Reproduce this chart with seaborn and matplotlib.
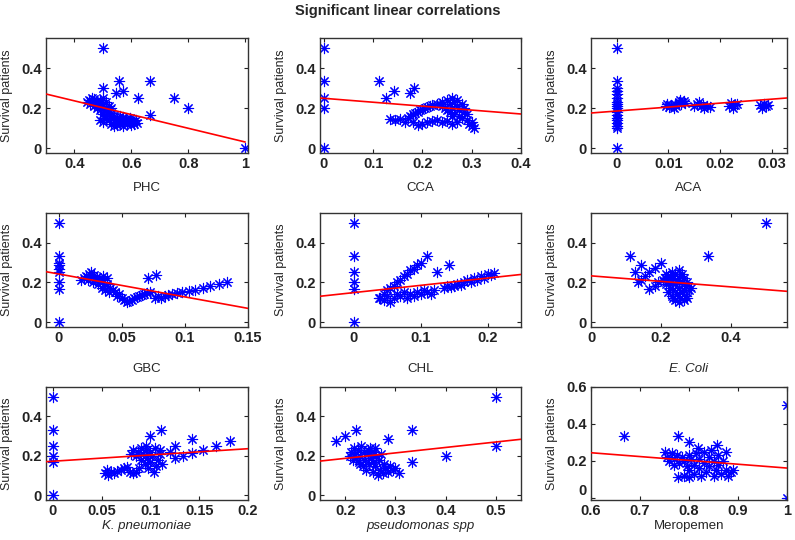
import matplotlib
matplotlib.use("Agg")
import matplotlib.pyplot as plt
import numpy as np
import pandas as pd
import seaborn as sns

# ---- data ----
phc_x = [0.445, 0.45, 0.455, 0.46, 0.465, 0.47, 0.47, 0.475, 0.48, 0.48, 0.485, 0.49, 0.49, 0.495,
         0.5, 0.5, 0.505, 0.505, 0.51, 0.51, 0.515, 0.52, 0.52, 0.525, 0.53, 0.53, 0.535, 0.54, 0.54,
         0.545, 0.55, 0.55, 0.555, 0.56, 0.56, 0.565, 0.57, 0.57, 0.575, 0.58, 0.585, 0.59, 0.595,
         0.6, 0.6, 0.605, 0.61, 0.615, 0.62, 0.52, 0.53, 0.51, 0.49, 0.5,
         0.5, 0.556, 0.667, 0.5, 0.545, 0.571, 0.625, 0.75, 0.8, 0.667, 1.0, 0.5]
phc_y = [0.23, 0.24, 0.22, 0.25, 0.23, 0.21, 0.245, 0.225, 0.235, 0.2, 0.215, 0.24, 0.19, 0.205,
         0.22, 0.17, 0.19, 0.15, 0.2, 0.16, 0.18, 0.14, 0.19, 0.16, 0.12, 0.175, 0.145, 0.11, 0.16,
         0.13, 0.15, 0.115, 0.135, 0.16, 0.12, 0.14, 0.11, 0.155, 0.13, 0.145, 0.12, 0.135, 0.15,
         0.115, 0.14, 0.13, 0.12, 0.14, 0.125, 0.21, 0.2, 0.23, 0.14, 0.13,
         0.5, 0.333, 0.333, 0.3, 0.273, 0.286, 0.25, 0.25, 0.2, 0.167, 0.0, 0.25]
phc_fit_x = [0.3, 1.0]
phc_fit_y = [0.27, 0.03]

cca_x = [0, 0, 0, 0, 0, 0.111, 0.125, 0.143, 0.175, 0.182,
         0.135, 0.145, 0.155, 0.165, 0.17,
         0.175, 0.18, 0.185, 0.19, 0.195, 0.2, 0.205, 0.21, 0.215, 0.22, 0.23,
         0.18, 0.19, 0.2, 0.21, 0.22, 0.23, 0.24, 0.25, 0.26, 0.27,
         0.24, 0.245, 0.25, 0.25, 0.255, 0.26, 0.26, 0.265, 0.265, 0.27, 0.27, 0.275, 0.275,
         0.28, 0.28, 0.285, 0.285, 0.29, 0.29, 0.295, 0.3, 0.3, 0.305, 0.26, 0.255, 0.24, 0.235]
cca_y = [0.5, 0.333, 0.25, 0.2, 0.0, 0.333, 0.25, 0.286, 0.273, 0.3,
         0.145, 0.14, 0.145, 0.13, 0.15,
         0.16, 0.17, 0.175, 0.18, 0.19, 0.195, 0.2, 0.205, 0.21, 0.215, 0.22,
         0.13, 0.115, 0.12, 0.13, 0.135, 0.14, 0.13, 0.135, 0.12, 0.13,
         0.23, 0.2, 0.24, 0.19, 0.22, 0.25, 0.2, 0.23, 0.17, 0.21, 0.24, 0.19, 0.16,
         0.22, 0.15, 0.18, 0.2, 0.14, 0.17, 0.12, 0.13, 0.11, 0.1, 0.16, 0.18, 0.21, 0.22]
cca_fit_x = [-0.008, 0.4]
cca_fit_y = [0.25, 0.17]

aca_x = [0] * 18 + [
    0.0095, 0.0098, 0.0102, 0.0105, 0.011, 0.0112, 0.0115, 0.012, 0.0122, 0.0125, 0.013, 0.0133,
    0.015, 0.0155, 0.016, 0.0163, 0.0168, 0.017, 0.0175, 0.018,
    0.0218, 0.0222, 0.0226, 0.023, 0.0234,
    0.0278, 0.0282, 0.0286, 0.029, 0.0294]
aca_y = [0.0, 0.1, 0.11, 0.125, 0.14, 0.15, 0.167, 0.18, 0.2, 0.21, 0.22, 0.23, 0.25, 0.27, 0.286,
         0.3, 0.333, 0.5,
         0.21, 0.22, 0.205, 0.215, 0.2, 0.22, 0.21, 0.23, 0.24, 0.22, 0.235, 0.225,
         0.21, 0.22, 0.23, 0.21, 0.215, 0.2, 0.21, 0.205,
         0.21, 0.225, 0.2, 0.215, 0.22,
         0.215, 0.2, 0.22, 0.21, 0.215]
aca_fit_x = [-0.005, 0.035]
aca_fit_y = [0.175, 0.254]

gbc_x = [0, 0, 0, 0, 0, 0, 0, 0, 0,
         0.018, 0.02, 0.022, 0.023, 0.024, 0.025, 0.026, 0.027, 0.028, 0.029, 0.03, 0.031, 0.032,
         0.033, 0.034, 0.035, 0.036, 0.037, 0.038, 0.04, 0.041, 0.043, 0.045, 0.046, 0.048, 0.05,
         0.052, 0.054, 0.056, 0.058, 0.06, 0.062, 0.064, 0.066, 0.068, 0.07, 0.072, 0.071, 0.077,
         0.076, 0.079, 0.081, 0.084, 0.087, 0.09, 0.094, 0.098, 0.103, 0.108, 0.114, 0.12, 0.127,
         0.133, 0.038, 0.035]
gbc_y = [0.5, 0.333, 0.3, 0.286, 0.27, 0.25, 0.2, 0.167, 0.0,
         0.21, 0.22, 0.23, 0.21, 0.24, 0.22, 0.25, 0.2, 0.235, 0.21, 0.225, 0.19, 0.215,
         0.2, 0.17, 0.21, 0.18, 0.16, 0.19, 0.15, 0.17, 0.16, 0.15, 0.13, 0.14, 0.12,
         0.11, 0.1, 0.105, 0.11, 0.12, 0.125, 0.13, 0.135, 0.14, 0.145, 0.15, 0.22, 0.235,
         0.12, 0.13, 0.12, 0.13, 0.135, 0.14, 0.145, 0.15, 0.155, 0.16, 0.17, 0.18, 0.19,
         0.2, 0.22, 0.23]
gbc_fit_x = [-0.01, 0.15]
gbc_fit_y = [0.254, 0.069]

chl_x = [0, 0, 0, 0, 0, 0,
         0.04, 0.045, 0.05, 0.055, 0.06, 0.065, 0.07, 0.075, 0.08, 0.085, 0.09, 0.095, 0.1, 0.11,
         0.038, 0.045, 0.05, 0.055, 0.06, 0.065, 0.07, 0.075, 0.08, 0.085, 0.09, 0.095, 0.1,
         0.105, 0.11, 0.115, 0.12, 0.125, 0.143,
         0.135, 0.14, 0.145, 0.15, 0.155, 0.16, 0.165, 0.17, 0.175, 0.18, 0.185, 0.19, 0.195,
         0.2, 0.205, 0.21]
chl_y = [0.5, 0.333, 0.25, 0.2, 0.167, 0.0,
         0.12, 0.14, 0.16, 0.17, 0.18, 0.2, 0.21, 0.23, 0.24, 0.26, 0.27, 0.29, 0.3, 0.333,
         0.12, 0.11, 0.13, 0.1, 0.12, 0.14, 0.13, 0.15, 0.12, 0.14, 0.13, 0.15, 0.14,
         0.16, 0.15, 0.14, 0.16, 0.25, 0.286,
         0.17, 0.18, 0.175, 0.18, 0.19, 0.185, 0.2, 0.21, 0.2, 0.22, 0.21, 0.23, 0.22,
         0.24, 0.235, 0.245]
chl_fit_x = [-0.05, 0.25]
chl_fit_y = [0.13, 0.24]

ecoli_x = [0.111, 0.125, 0.143, 0.133, 0.143, 0.154, 0.167, 0.182, 0.2, 0.167, 0.182, 0.19, 0.333, 0.5,
           0.205, 0.21, 0.215, 0.215, 0.22, 0.22, 0.225, 0.225, 0.23, 0.23, 0.23, 0.235, 0.235, 0.24,
           0.24, 0.24, 0.245, 0.245, 0.25, 0.25, 0.25, 0.255, 0.255, 0.26, 0.26, 0.265, 0.265, 0.27,
           0.27, 0.275, 0.28, 0.285, 0.275, 0.26, 0.22, 0.235, 0.25, 0.265]
ecoli_y = [0.333, 0.25, 0.286, 0.2, 0.214, 0.23, 0.25, 0.273, 0.3, 0.167, 0.18, 0.2, 0.333, 0.5,
           0.21, 0.22, 0.19, 0.24, 0.2, 0.15, 0.23, 0.17, 0.25, 0.13, 0.2, 0.22, 0.16, 0.11,
           0.24, 0.19, 0.14, 0.21, 0.26, 0.1, 0.17, 0.23, 0.12, 0.2, 0.15, 0.22, 0.11, 0.18,
           0.13, 0.2, 0.16, 0.17, 0.12, 0.24, 0.23, 0.12, 0.2, 0.16]
ecoli_fit_x = [0.0, 0.56]
ecoli_fit_y = [0.233, 0.155]

kpn_x = [0, 0, 0, 0, 0, 0,
         0.053, 0.055, 0.057, 0.06, 0.063, 0.066, 0.07, 0.073, 0.076, 0.079, 0.082, 0.085, 0.088,
         0.08, 0.082, 0.085, 0.087, 0.09, 0.09, 0.092, 0.094, 0.095, 0.097, 0.098, 0.1, 0.1, 0.102,
         0.104, 0.105, 0.106, 0.108, 0.11, 0.112, 0.095, 0.11,
         0.1, 0.111, 0.125, 0.143, 0.167, 0.182, 0.154, 0.143, 0.133, 0.125, 0.12]
kpn_y = [0.5, 0.333, 0.25, 0.2, 0.167, 0.0,
         0.11, 0.13, 0.1, 0.12, 0.11, 0.125, 0.13, 0.14, 0.145, 0.12, 0.11, 0.12, 0.14,
         0.21, 0.23, 0.2, 0.22, 0.24, 0.18, 0.21, 0.16, 0.23, 0.19, 0.14, 0.22, 0.17, 0.2,
         0.12, 0.24, 0.15, 0.18, 0.21, 0.16, 0.25, 0.23,
         0.3, 0.333, 0.25, 0.286, 0.25, 0.273, 0.23, 0.214, 0.2, 0.19, 0.22]
kpn_fit_x = [-0.007, 0.2]
kpn_fit_y = [0.17, 0.236]

pse_x = [0.182, 0.2, 0.222, 0.286, 0.333, 0.333, 0.4, 0.5, 0.5, 0.308,
         0.21, 0.212, 0.215, 0.218, 0.22, 0.222, 0.225, 0.227, 0.23, 0.232, 0.235, 0.237, 0.24,
         0.242, 0.245, 0.247, 0.25, 0.252, 0.255, 0.257, 0.26, 0.262, 0.265, 0.267, 0.27, 0.272,
         0.275, 0.278, 0.28, 0.285, 0.29, 0.295, 0.3, 0.26, 0.245, 0.255, 0.23]
pse_y = [0.273, 0.3, 0.333, 0.286, 0.333, 0.167, 0.2, 0.5, 0.25, 0.111,
         0.2, 0.22, 0.18, 0.24, 0.21, 0.19, 0.23, 0.17, 0.2, 0.25, 0.15, 0.22, 0.18,
         0.13, 0.21, 0.16, 0.24, 0.19, 0.12, 0.22, 0.15, 0.2, 0.1, 0.18, 0.13, 0.21,
         0.11, 0.16, 0.14, 0.12, 0.15, 0.13, 0.14, 0.24, 0.23, 0.17, 0.16]
pse_fit_x = [0.15, 0.55]
pse_fit_y = [0.173, 0.284]

mer_x = [0.667, 0.778, 0.8, 0.857, 0.875, 0.818, 1.0, 1.0,
         0.75, 0.755, 0.76, 0.765, 0.77, 0.775, 0.778, 0.78, 0.785, 0.79, 0.79, 0.795, 0.8, 0.8,
         0.805, 0.81, 0.81, 0.815, 0.82, 0.82, 0.825, 0.83, 0.83, 0.835, 0.84, 0.84, 0.845, 0.85,
         0.85, 0.855, 0.86, 0.86, 0.865, 0.87, 0.875, 0.88, 0.885, 0.89, 0.8, 0.77]
mer_y = [0.333, 0.333, 0.3, 0.286, 0.25, 0.27, 0.5, 0.0,
         0.25, 0.22, 0.2, 0.24, 0.21, 0.23, 0.11, 0.19, 0.22, 0.12, 0.2, 0.17, 0.23, 0.15,
         0.21, 0.13, 0.18, 0.24, 0.16, 0.21, 0.12, 0.19, 0.25, 0.14, 0.22, 0.17, 0.26, 0.12,
         0.2, 0.15, 0.23, 0.18, 0.13, 0.2, 0.15, 0.12, 0.14, 0.15, 0.11, 0.18]
mer_fit_x = [0.6, 1.0]
mer_fit_y = [0.244, 0.161]

panels = [
    ("PHC", False, phc_x, phc_y, phc_fit_x, phc_fit_y, (0.3, 1.01), [0.4, 0.6, 0.8, 1.0], ["0.4", "0.6", "0.8", "1"]),
    ("CCA", False, cca_x, cca_y, cca_fit_x, cca_fit_y, (-0.008, 0.4), [0, 0.1, 0.2, 0.3, 0.4], ["0", "0.1", "0.2", "0.3", "0.4"]),
    ("ACA", False, aca_x, aca_y, aca_fit_x, aca_fit_y, (-0.005, 0.033), [0, 0.01, 0.02, 0.03], ["0", "0.01", "0.02", "0.03"]),
    ("GBC", False, gbc_x, gbc_y, gbc_fit_x, gbc_fit_y, (-0.01, 0.15), [0, 0.05, 0.1, 0.15], ["0", "0.05", "0.1", "0.15"]),
    ("CHL", False, chl_x, chl_y, chl_fit_x, chl_fit_y, (-0.05, 0.25), [0, 0.1, 0.2], ["0", "0.1", "0.2"]),
    ("E. Coli", True, ecoli_x, ecoli_y, ecoli_fit_x, ecoli_fit_y, (0, 0.56), [0, 0.2, 0.4], ["0", "0.2", "0.4"]),
    ("K. pneumoniae", True, kpn_x, kpn_y, kpn_fit_x, kpn_fit_y, (-0.007, 0.2), [0, 0.05, 0.1, 0.15, 0.2], ["0", "0.05", "0.1", "0.15", "0.2"]),
    ("pseudomonas spp", True, pse_x, pse_y, pse_fit_x, pse_fit_y, (0.15, 0.55), [0.2, 0.3, 0.4, 0.5], ["0.2", "0.3", "0.4", "0.5"]),
    ("Meropemen", False, mer_x, mer_y, mer_fit_x, mer_fit_y, (0.6, 1.0), [0.6, 0.7, 0.8, 0.9, 1.0], ["0.6", "0.7", "0.8", "0.9", "1"]),
]

sns.set_style("ticks")
plt.rcParams["font.family"] = ["Liberation Sans", "DejaVu Sans"]

fig = plt.figure(figsize=(7.95, 5.4), dpi=100)
lefts = [46, 320, 591]
widths = [202, 201, 196]
tops = [38, 213, 387]
bottoms = [153, 327, 500]
xpads = [8, 13, 1.5]
W, H = 795.0, 540.0

for i, (name, ital, xs, ys, fx, fy, xlim, xt, xtl) in enumerate(panels):
    r, c = divmod(i, 3)
    ax = fig.add_axes([lefts[c] / W, 1 - bottoms[r] / H, widths[c] / W, (bottoms[r] - tops[r]) / H])
    df = pd.DataFrame({"x": xs, "y": ys})
    sns.scatterplot(data=df, x="x", y="y", ax=ax, marker=(8, 2, 0), s=55,
                    color="#0000ff", edgecolor="#0000ff", linewidth=0.8, zorder=2)
    sns.lineplot(x=fx, y=fy, ax=ax, color="#ff0000", linewidth=1.2, zorder=3)
    ax.set_xlim(*xlim)
    if name == "Meropemen":
        ax.set_ylim(-0.012, 0.6)
        ax.set_yticks([0, 0.2, 0.4, 0.6])
        ax.set_yticklabels(["0", "0.2", "0.4", "0.6"])
    else:
        ax.set_ylim(-0.025, 0.55)
        ax.set_yticks([0, 0.2, 0.4])
        ax.set_yticklabels(["0", "0.2", "0.4"])
    ax.set_xticks(xt)
    ax.set_xticklabels(xtl)
    ax.tick_params(direction="in", top=True, right=True, length=3, width=0.8,
                   labelsize=10.5, pad=3, colors="#222222")
    for lab in ax.get_xticklabels() + ax.get_yticklabels():
        lab.set_fontweight("bold")
    for sp in ax.spines.values():
        sp.set_visible(True)
        sp.set_linewidth(1.0)
        sp.set_color("#333333")
    ax.set_xlabel(name, fontsize=9.5, style="italic" if ital else "normal", labelpad=xpads[r])
    ax.set_ylabel("Survival patients", fontsize=9, labelpad=6)
    if name == "Meropemen":
        # keep the lowest y tick label clear of the first x tick label
        ax.get_yticklabels()[0].set_verticalalignment("bottom")

fig.suptitle("Significant linear correlations", fontsize=10.5, fontweight="bold", x=0.5, y=0.993)
fig.savefig("out.png", dpi=100)
